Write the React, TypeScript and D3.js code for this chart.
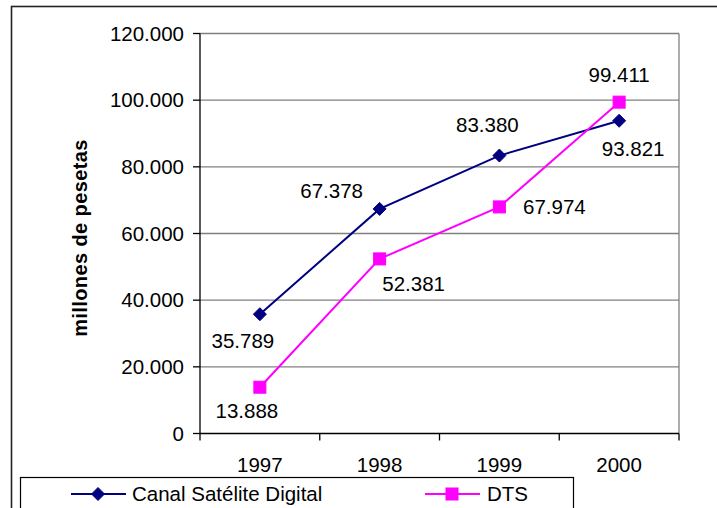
import React from "react";
import * as d3 from "d3";

// Years on the category axis
const years = ["1997", "1998", "1999", "2000"];
// Revenue, millions of pesetas
const canalSatelite = [35789, 67378, 83380, 93821];
const dts = [13888, 52381, 67974, 99411];
const yTicks = [0, 20000, 40000, 60000, 80000, 100000, 120000];

// Label offsets (label centre relative to its point)
const csdLabelOffsets: [number, number][] = [[-17, 27], [-48, -18], [-12, -31], [14, 28]];
const dtsLabelOffsets: [number, number][] = [[-13, 24], [34, 25], [55, 0], [0, -27]];

const W = 717;
const H = 508;
const plot = { left: 200, right: 679, top: 33.5, bottom: 433.5 };

const fmt = (v: number) =>
  v === 0 ? "0" : d3.format(",")(v).replace(/,/g, ".");

export default function App() {
  const x = d3
    .scaleBand<string>()
    .domain(years)
    .range([plot.left, plot.right]);
  const cx = (y: string) => (x(y) as number) + x.bandwidth() / 2;
  const y = d3.scaleLinear().domain([0, 120000]).range([plot.bottom, plot.top]);

  const line = d3
    .line<number>()
    .x((_, i) => cx(years[i]))
    .y((d) => y(d));

  const font = "'Liberation Sans', Arial, sans-serif";
  const navy = "#000080";
  const magenta = "#FF00FF";
  const fs = 20.5;

  const diamond = (px: number, py: number, r = 6.5) =>
    `M${px},${py - r}L${px + r},${py}L${px},${py + r}L${px - r},${py}Z`;

  const xEdges = [...years.map((d) => x(d) as number), plot.right];

  return (
    <svg
      width={W}
      height={H}
      style={{ position: "absolute", left: 0, top: 0, background: "#fff" }}
      fontFamily={font}
    >
      {/* outer chart frame */}
      <rect x={11.5} y={6.5} width={W + 20} height={H + 20} fill="none" stroke="#222" strokeWidth={1.6} />

      {/* gridlines */}
      {yTicks.slice(1).map((t) => (
        <line key={t} x1={plot.left} x2={plot.right} y1={y(t)} y2={y(t)} stroke="#808080" strokeWidth={1.3} />
      ))}
      {/* plot area right edge */}
      <line x1={plot.right} x2={plot.right} y1={plot.top} y2={plot.bottom} stroke="#808080" strokeWidth={1.3} />

      {/* y axis */}
      <line x1={plot.left} x2={plot.left} y1={plot.top} y2={plot.bottom} stroke="#000" strokeWidth={1.3} />
      {yTicks.map((t) => (
        <g key={t}>
          <line x1={plot.left - 7} x2={plot.left} y1={y(t)} y2={y(t)} stroke="#000" strokeWidth={1.3} />
          <text x={184} y={y(t)} dy="0.35em" textAnchor="end" fontSize={fs}>
            {fmt(t)}
          </text>
        </g>
      ))}

      {/* x axis */}
      <line x1={plot.left} x2={plot.right} y1={plot.bottom} y2={plot.bottom} stroke="#000" strokeWidth={1.3} />
      {xEdges.map((e, i) => (
        <line key={i} x1={e} x2={e} y1={plot.bottom} y2={plot.bottom + 7} stroke="#000" strokeWidth={1.3} />
      ))}
      {years.map((yr) => (
        <text key={yr} x={cx(yr)} y={465} dy="0.35em" textAnchor="middle" fontSize={fs}>
          {yr}
        </text>
      ))}

      {/* axis title */}
      <text
        transform={`translate(80,238) rotate(-90)`}
        textAnchor="middle"
        dy="0.35em"
        fontSize={20}
        fontWeight="bold"
        letterSpacing={0.4}
      >
        millones de pesetas
      </text>

      {/* series lines */}
      <path d={line(canalSatelite) as string} fill="none" stroke={navy} strokeWidth={2} />
      <path d={line(dts) as string} fill="none" stroke={magenta} strokeWidth={2} />

      {/* markers */}
      {canalSatelite.map((v, i) => (
        <path key={"c" + i} d={diamond(cx(years[i]), y(v))} fill={navy} stroke={navy} />
      ))}
      {dts.map((v, i) => (
        <rect key={"d" + i} x={cx(years[i]) - 6} y={y(v) - 6} width={12} height={12} fill={magenta} stroke={magenta} />
      ))}

      {/* data labels */}
      {canalSatelite.map((v, i) => (
        <text
          key={"cl" + i}
          x={cx(years[i]) + csdLabelOffsets[i][0]}
          y={y(v) + csdLabelOffsets[i][1]}
          dy="0.35em"
          textAnchor="middle"
          fontSize={fs}
        >
          {fmt(v)}
        </text>
      ))}
      {dts.map((v, i) => (
        <text
          key={"dl" + i}
          x={cx(years[i]) + dtsLabelOffsets[i][0]}
          y={y(v) + dtsLabelOffsets[i][1]}
          dy="0.35em"
          textAnchor="middle"
          fontSize={fs}
        >
          {fmt(v)}
        </text>
      ))}

      {/* legend */}
      <rect x={20.5} y={477.5} width={553} height={40} fill="#fff" stroke="#000" strokeWidth={1.2} />
      <line x1={71} x2={126} y1={494} y2={494} stroke={navy} strokeWidth={2} />
      <path d={diamond(98, 494)} fill={navy} stroke={navy} />
      <text x={132} y={494} dy="0.35em" fontSize={fs}>
        Canal Satélite Digital
      </text>
      <line x1={425} x2={480} y1={494} y2={494} stroke={magenta} strokeWidth={2} />
      <rect x={446} y={488} width={12} height={12} fill={magenta} stroke={magenta} />
      <text x={487} y={494} dy="0.35em" fontSize={fs}>
        DTS
      </text>
    </svg>
  );
}
